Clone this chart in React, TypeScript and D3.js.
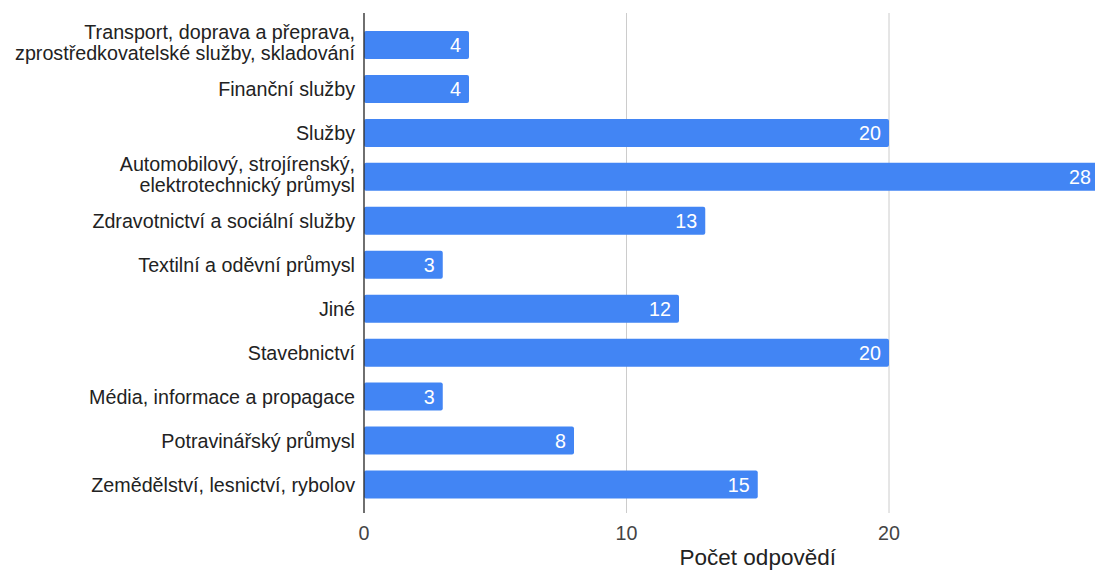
import React from "react";
import * as d3 from "d3";

// Industry sectors (top to bottom) and their answer counts
const categories: string[][] = [
  ["Transport, doprava a přeprava,", "zprostředkovatelské služby, skladování"],
  ["Finanční služby"],
  ["Služby"],
  ["Automobilový, strojírenský,", "elektrotechnický průmysl"],
  ["Zdravotnictví a sociální služby"],
  ["Textilní a oděvní průmysl"],
  ["Jiné"],
  ["Stavebnictví"],
  ["Média, informace a propagace"],
  ["Potravinářský průmysl"],
  ["Zemědělství, lesnictví, rybolov"],
];
const values: number[] = [4, 4, 20, 28, 13, 3, 12, 20, 3, 8, 15];
const xTicks: number[] = [0, 10, 20, 30];
const xTitle = "Počet odpovědí";

const W = 1095;
const H = 571;
const FONT = "Arial, 'Liberation Sans', sans-serif";
const FS = 19.7;

export default function App() {
  const x = d3.scaleLinear().domain([0, 30]).range([364, 1151.5]);
  const ids = categories.map((_, i) => String(i));
  const y = d3
    .scaleBand<string>()
    .domain(ids)
    .range([23, 506.5])
    .paddingInner(0.363)
    .paddingOuter(0.1815);
  const axisTop = 13;
  const axisBottom = 513;
  // the plot area runs past the right edge; only ticks inside the view get labels
  const visibleTicks = xTicks.filter((t) => x(t) < W - 10);

  return (
    <svg
      width={W}
      height={H}
      style={{ position: "absolute", left: 0, top: 0, background: "#fff" }}
      fontFamily={FONT}
    >
      {/* vertical gridlines */}
      {visibleTicks
        .filter((t) => t > 0)
        .map((t) => (
          <line
            key={"g" + t}
            x1={x(t)}
            x2={x(t)}
            y1={axisTop}
            y2={axisBottom}
            stroke="#cccccc"
            strokeWidth={1}
          />
        ))}

      {/* bars */}
      {values.map((v, i) => {
        const y0 = y(String(i))!;
        const bw = y.bandwidth();
        return (
          <g key={"b" + i}>
            <rect
              x={x(0)}
              y={y0}
              width={x(v) - x(0)}
              height={bw}
              rx={2}
              fill="#4285f4"
            />
            <text
              x={x(v) - 8}
              y={y0 + bw / 2}
              dy="0.36em"
              textAnchor="end"
              fill="#ffffff"
              fontSize={FS}
            >
              {v}
            </text>
          </g>
        );
      })}

      {/* category labels */}
      {categories.map((lines, i) => {
        const cy = y(String(i))! + y.bandwidth() / 2;
        if (lines.length === 1) {
          return (
            <text
              key={"c" + i}
              x={355}
              y={cy}
              dy="0.36em"
              textAnchor="end"
              fill="#222222"
              fontSize={FS}
            >
              {lines[0]}
            </text>
          );
        }
        return (
          <text key={"c" + i} textAnchor="end" fill="#222222" fontSize={FS}>
            <tspan x={355} y={cy - 5.5}>
              {lines[0]}
            </tspan>
            <tspan x={355} y={cy + 15}>
              {lines[1]}
            </tspan>
          </text>
        );
      })}

      {/* baseline axis */}
      <line
        x1={x(0)}
        x2={x(0)}
        y1={axisTop}
        y2={axisBottom}
        stroke="#333333"
        strokeWidth={1.4}
      />

      {/* x tick labels */}
      {visibleTicks.map((t) => (
        <text
          key={"t" + t}
          x={x(t)}
          y={533}
          dy="0.36em"
          textAnchor="middle"
          fill="#444444"
          fontSize={FS}
        >
          {t}
        </text>
      ))}

      {/* x axis title */}
      <text
        x={(x(0) + x(30)) / 2}
        y={557}
        dy="0.36em"
        textAnchor="middle"
        fill="#222222"
        fontSize={22.5}
      >
        {xTitle}
      </text>
    </svg>
  );
}
